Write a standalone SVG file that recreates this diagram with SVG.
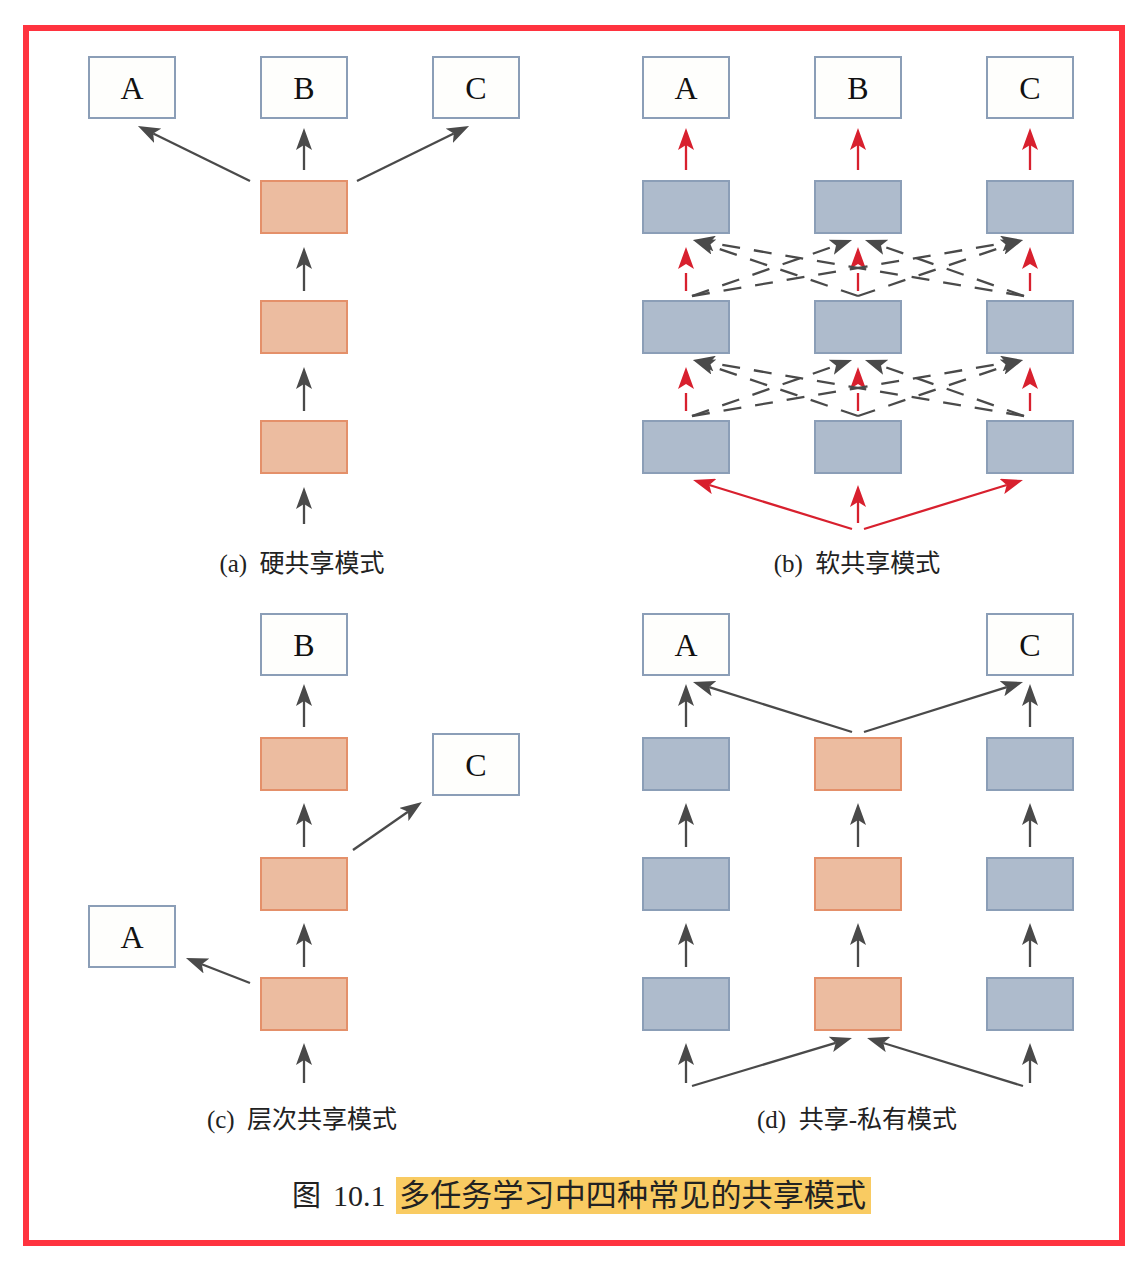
<svg xmlns="http://www.w3.org/2000/svg" width="1144" height="1266" viewBox="0 0 1144 1266">
<style>
.out{fill:#FEFEFC;stroke:#8B9EB7;stroke-width:2}
.or{fill:#ECBCA0;stroke:#E4906A;stroke-width:2}
.bl{fill:#AEBBCC;stroke:#8B9EB7;stroke-width:2}
.lbl{font-family:"Liberation Serif",serif;font-size:32px;fill:#111;text-anchor:middle}
.cap{font-family:"Liberation Serif","Noto Sans CJK SC",serif;font-size:25px;fill:#222;text-anchor:middle}
.g{stroke:#4A4A4A;stroke-width:2.3;fill:none;marker-end:url(#ag)}
.r{stroke:#D8202E;stroke-width:2.3;fill:none;marker-end:url(#ar)}
.gd{stroke-dasharray:18 14}
.rd{stroke-dasharray:18 9}
</style>
<defs>
<marker id="ag" viewBox="0 0 22 16" refX="5" refY="8" markerWidth="22" markerHeight="16" markerUnits="userSpaceOnUse" orient="auto">
<path d="M0,0 L22,8 L0,16 L5,8 z" fill="#4A4A4A"/>
</marker>
<marker id="ar" viewBox="0 0 22 16" refX="5" refY="8" markerWidth="22" markerHeight="16" markerUnits="userSpaceOnUse" orient="auto">
<path d="M0,0 L22,8 L0,16 L5,8 z" fill="#D8202E"/>
</marker>
</defs>
<rect x="0" y="0" width="1144" height="1266" fill="#FFFFFF"/>
<rect id="frame" x="26" y="28" width="1096" height="1215" fill="none" stroke="#FF333F" stroke-width="6"/>

<!-- Panel a -->
<g id="a-A"><rect class="out" x="89" y="57" width="86" height="61"/><text class="lbl" x="132" y="99">A</text></g>
<g id="a-B"><rect class="out" x="261" y="57" width="86" height="61"/><text class="lbl" x="304" y="99">B</text></g>
<g id="a-C"><rect class="out" x="433" y="57" width="86" height="61"/><text class="lbl" x="476" y="99">C</text></g>
<g id="a-h3"><rect class="or" x="261" y="181" width="86" height="52"/></g>
<g id="a-h2"><rect class="or" x="261" y="301" width="86" height="52"/></g>
<g id="a-h1"><rect class="or" x="261" y="421" width="86" height="52"/></g>
<text id="cap-a" class="cap" x="302" y="572" xml:space="preserve">(a)  硬共享模式</text>

<!-- Panel b -->
<g id="b-A"><rect class="out" x="643" y="57" width="86" height="61"/><text class="lbl" x="686" y="99">A</text></g>
<g id="b-B"><rect class="out" x="815" y="57" width="86" height="61"/><text class="lbl" x="858" y="99">B</text></g>
<g id="b-C"><rect class="out" x="987" y="57" width="86" height="61"/><text class="lbl" x="1030" y="99">C</text></g>
<g id="b-l3"><rect class="bl" x="643" y="181" width="86" height="52"/></g>
<g id="b-m3"><rect class="bl" x="815" y="181" width="86" height="52"/></g>
<g id="b-r3"><rect class="bl" x="987" y="181" width="86" height="52"/></g>
<g id="b-l2"><rect class="bl" x="643" y="301" width="86" height="52"/></g>
<g id="b-m2"><rect class="bl" x="815" y="301" width="86" height="52"/></g>
<g id="b-r2"><rect class="bl" x="987" y="301" width="86" height="52"/></g>
<g id="b-l1"><rect class="bl" x="643" y="421" width="86" height="52"/></g>
<g id="b-m1"><rect class="bl" x="815" y="421" width="86" height="52"/></g>
<g id="b-r1"><rect class="bl" x="987" y="421" width="86" height="52"/></g>
<text id="cap-b" class="cap" x="857" y="572" xml:space="preserve">(b)  软共享模式</text>

<!-- Panel c -->
<g id="c-B"><rect class="out" x="261" y="614" width="86" height="61"/><text class="lbl" x="304" y="656">B</text></g>
<g id="c-C"><rect class="out" x="433" y="734" width="86" height="61"/><text class="lbl" x="476" y="776">C</text></g>
<g id="c-A"><rect class="out" x="89" y="906" width="86" height="61"/><text class="lbl" x="132" y="948">A</text></g>
<g id="c-h3"><rect class="or" x="261" y="738" width="86" height="52"/></g>
<g id="c-h2"><rect class="or" x="261" y="858" width="86" height="52"/></g>
<g id="c-h1"><rect class="or" x="261" y="978" width="86" height="52"/></g>
<text id="cap-c" class="cap" x="302" y="1128" xml:space="preserve">(c)  层次共享模式</text>

<!-- Panel d -->
<g id="d-A"><rect class="out" x="643" y="614" width="86" height="61"/><text class="lbl" x="686" y="656">A</text></g>
<g id="d-C"><rect class="out" x="987" y="614" width="86" height="61"/><text class="lbl" x="1030" y="656">C</text></g>
<g id="d-l3"><rect class="bl" x="643" y="738" width="86" height="52"/></g>
<g id="d-m3"><rect class="or" x="815" y="738" width="86" height="52"/></g>
<g id="d-r3"><rect class="bl" x="987" y="738" width="86" height="52"/></g>
<g id="d-l2"><rect class="bl" x="643" y="858" width="86" height="52"/></g>
<g id="d-m2"><rect class="or" x="815" y="858" width="86" height="52"/></g>
<g id="d-r2"><rect class="bl" x="987" y="858" width="86" height="52"/></g>
<g id="d-l1"><rect class="bl" x="643" y="978" width="86" height="52"/></g>
<g id="d-m1"><rect class="or" x="815" y="978" width="86" height="52"/></g>
<g id="d-r1"><rect class="bl" x="987" y="978" width="86" height="52"/></g>
<text id="cap-d" class="cap" x="857" y="1128" xml:space="preserve">(d)  共享-私有模式</text>

<g id="connectors">
<!-- a -->
<line class="g" x1="304" y1="170" x2="304" y2="145"/>
<line class="g" x1="304" y1="291" x2="304" y2="264"/>
<line class="g" x1="304" y1="411" x2="304" y2="384"/>
<line class="g" x1="304" y1="524" x2="304" y2="504"/>
<line class="g" x1="250" y1="181" x2="153.2" y2="133.5"/>
<line class="g" x1="357" y1="181" x2="453.8" y2="133.5"/>
<!-- b red -->
<line class="r" x1="686" y1="170" x2="686" y2="145"/>
<line class="r" x1="858" y1="170" x2="858" y2="145"/>
<line class="r" x1="1030" y1="170" x2="1030" y2="145"/>
<line class="r rd" x1="686" y1="291" x2="686" y2="264"/>
<line class="r rd" x1="858" y1="291" x2="858" y2="264"/>
<line class="r rd" x1="1030" y1="291" x2="1030" y2="264"/>
<line class="r rd" x1="686" y1="411" x2="686" y2="384"/>
<line class="r rd" x1="858" y1="411" x2="858" y2="384"/>
<line class="r rd" x1="1030" y1="411" x2="1030" y2="384"/>
<line class="r" x1="852" y1="529" x2="709.3" y2="485"/>
<line class="r" x1="858" y1="523" x2="858" y2="502"/>
<line class="r" x1="864" y1="529" x2="1006.7" y2="485"/>
<!-- b gray dashed, layer 1 -->
<line class="g gd" x1="692" y1="296" x2="836" y2="245.6"/>
<line class="g gd" x1="692" y1="296" x2="1006.2" y2="242.8"/>
<line class="g gd" x1="1024" y1="296" x2="881" y2="245.6"/>
<line class="g gd" x1="1024" y1="296" x2="709.8" y2="242.8"/>
<line class="g gd" x1="858" y1="296" x2="709.1" y2="245.5"/>
<line class="g gd" x1="858" y1="296" x2="1006.9" y2="245.5"/>
<!-- b gray dashed, layer 2 -->
<line class="g gd" x1="692" y1="416" x2="836" y2="365.6"/>
<line class="g gd" x1="692" y1="416" x2="1006.2" y2="362.8"/>
<line class="g gd" x1="1024" y1="416" x2="881" y2="365.6"/>
<line class="g gd" x1="1024" y1="416" x2="709.8" y2="362.8"/>
<line class="g gd" x1="858" y1="416" x2="709.1" y2="365.5"/>
<line class="g gd" x1="858" y1="416" x2="1006.9" y2="365.5"/>
<!-- c -->
<line class="g" x1="304" y1="727" x2="304" y2="701"/>
<line class="g" x1="304" y1="847" x2="304" y2="820"/>
<line class="g" x1="304" y1="967" x2="304" y2="940"/>
<line class="g" x1="304" y1="1083" x2="304" y2="1060"/>
<line class="g" x1="353" y1="850" x2="408" y2="811.7"/>
<line class="g" x1="250" y1="983" x2="201.8" y2="964.2"/>
<!-- d -->
<line class="g" x1="686" y1="727" x2="686" y2="701"/>
<line class="g" x1="686" y1="847" x2="686" y2="820"/>
<line class="g" x1="686" y1="967" x2="686" y2="940"/>
<line class="g" x1="686" y1="1083" x2="686" y2="1060"/>
<line class="g" x1="858" y1="847" x2="858" y2="820"/>
<line class="g" x1="858" y1="967" x2="858" y2="940"/>
<line class="g" x1="1030" y1="727" x2="1030" y2="701"/>
<line class="g" x1="1030" y1="847" x2="1030" y2="820"/>
<line class="g" x1="1030" y1="967" x2="1030" y2="940"/>
<line class="g" x1="1030" y1="1083" x2="1030" y2="1060"/>
<line class="g" x1="852" y1="732" x2="709.2" y2="687.1"/>
<line class="g" x1="864" y1="732" x2="1006.8" y2="687.1"/>
<line class="g" x1="692" y1="1086" x2="835.7" y2="1042.9"/>
<line class="g" x1="1023" y1="1086" x2="883.3" y2="1043"/>
</g>

<g id="title">
<rect x="396" y="1177" width="475" height="37" fill="#F9CB62"/>
<text x="292" y="1206" font-family="'Noto Sans CJK SC',sans-serif" font-size="29" fill="#222">图</text>
<text x="333" y="1206" font-family="'Liberation Serif',serif" font-size="30" fill="#222">10.1</text>
<text x="399" y="1206" font-family="'Noto Sans CJK SC',sans-serif" font-size="31" fill="#222" textLength="467" lengthAdjust="spacing">多任务学习中四种常见的共享模式</text>
</g>
</svg>
